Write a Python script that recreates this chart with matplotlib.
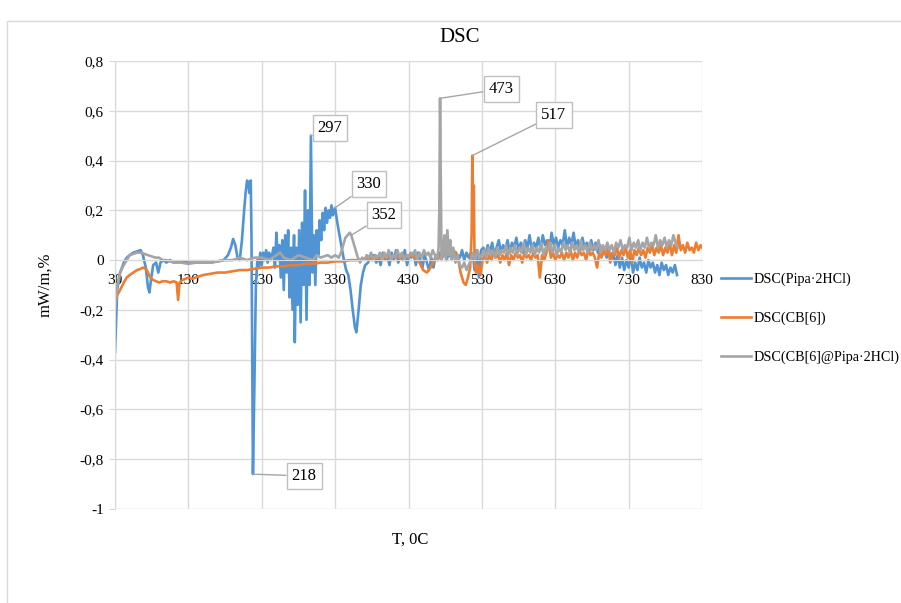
import numpy as np
import matplotlib
matplotlib.use("Agg")
import matplotlib.pyplot as plt
from matplotlib.patches import Rectangle

plt.rcParams['font.family'] = ['Liberation Serif', 'DejaVu Serif']

# DSC(Pipa·2HCl)
blue_t = [30, 33, 37, 42, 46, 50, 55, 60, 65, 68, 72, 75, 77, 79, 82, 86, 89, 92, 96, 100,
          105, 110, 120, 130, 140, 150, 160, 170, 178, 184, 188, 191, 194, 197, 200, 203,
          206, 208, 210, 212, 213, 215, 216, 218, 220, 222, 224, 226, 228, 230, 232, 234,
          236, 238, 240, 242, 244, 246, 248, 250, 252, 254, 256, 258, 260, 262, 264, 266,
          268, 270, 272, 274, 275, 277, 279, 281, 283, 285, 287, 289, 291, 293, 295, 297,
          299, 301, 303, 305, 307, 309, 311, 313, 315, 317, 319, 321, 323, 325, 327, 330,
          333, 336, 339, 342, 345, 348, 351, 354, 357, 359, 362, 365, 368, 371, 375, 377,
          380, 383, 386, 389, 392, 395, 398, 401, 404, 407, 410, 413, 416, 419, 422, 425,
          428, 431, 434, 437, 440, 443, 446, 449, 452, 455, 458, 461, 464, 467, 470, 473,
          476, 479, 482, 485, 488, 491, 494, 497, 500, 503, 506, 509, 512, 515, 518, 520,
          523, 526, 529, 532, 535, 538, 541, 544, 547, 550, 553, 556, 559, 562, 565, 568,
          571, 574, 577, 580, 583, 586, 589, 592, 595, 598, 601, 604, 607, 610, 613, 616,
          619, 622, 625, 628, 631, 634, 637, 640, 643, 646, 649, 652, 655, 658, 661, 664,
          667, 670, 673, 676, 679, 682, 685, 688, 691, 694, 697, 700, 703, 706, 709, 712,
          715, 718, 721, 724, 727, 730, 733, 736, 739, 742, 745, 748, 751, 754, 757, 760,
          763, 766, 769, 772, 775, 778, 781, 784, 787, 790, 793, 796]
blue_y = [-0.37, -0.12, -0.05, -0.01, 0.01, 0.02, 0.03, 0.035, 0.04, 0.02, -0.03, -0.11, -0.13, -0.08, -0.02, -0.01, -0.05, -0.01, 0.0, -0.01,
          0.0, -0.01, -0.005, -0.01, -0.01, -0.01, -0.01, -0.005, 0.0, 0.02, 0.05, 0.085, 0.06, 0.01, 0.0, 0.08,
          0.2, 0.27, 0.32, 0.31, 0.27, 0.32, 0.1, -0.86, -0.5, -0.1, 0.0, -0.03, 0.03, -0.02, 0.03, 0.0,
          0.04, -0.01, 0.03, 0.0, 0.02, 0.05, -0.03, 0.11, 0.0, 0.06, -0.07, 0.08, -0.12, 0.1, -0.05, 0.12,
          -0.15, 0.05, -0.2, 0.1, -0.33, 0.05, -0.18, 0.12, -0.25, 0.15, -0.1, 0.28, -0.24, 0.2, -0.1, 0.5,
          -0.05, 0.1, -0.1, 0.12, 0.02, 0.16, 0.08, 0.19, 0.12, 0.21, 0.15, 0.2, 0.17, 0.22, 0.18, 0.21,
          0.15, 0.1, 0.05, 0.0, -0.04, -0.06, -0.12, -0.2, -0.27, -0.29, -0.2, -0.1, -0.05, -0.02, -0.01, 0.01,
          0.0, 0.02, -0.01, 0.01, -0.02, 0.03, 0.0, 0.02, -0.02, 0.03, 0.0, 0.04, -0.01, 0.02, 0.0, 0.04,
          -0.02, 0.02, 0.01, 0.03, -0.02, 0.03, 0.0, -0.03, 0.02, -0.01, -0.04, 0.01, -0.03, 0.02, 0.0, 0.03,
          0.01, 0.04, 0.0, 0.03, 0.01, 0.04, 0.0, 0.02, 0.01, 0.04, 0.0, 0.03, 0.01, 0.03, 0.02, -0.04,
          0.04, -0.07, 0.04, 0.05, 0.02, 0.06, 0.03, 0.07, 0.02, 0.05, 0.08, 0.03, 0.06, 0.04, 0.08, 0.03,
          0.07, 0.05, 0.09, 0.04, 0.07, 0.03, 0.08, 0.05, 0.1, 0.04, 0.07, 0.05, 0.09, 0.04, 0.1, 0.06,
          0.08, 0.04, 0.11, 0.06, 0.09, 0.05, 0.08, 0.06, 0.12, 0.05, 0.09, 0.06, 0.11, 0.05, 0.08, 0.04,
          0.09, 0.05, 0.07, 0.03, 0.08, 0.04, 0.07, 0.03, 0.06, 0.02, 0.05, 0.01, 0.04, 0.0, 0.03, -0.02,
          0.02, -0.03, 0.01, -0.04, 0.0, -0.03, 0.02, -0.05, -0.01, -0.04, 0.01, -0.03, -0.01, -0.05, 0.0, -0.03,
          -0.01, -0.05, -0.02, -0.06, -0.01, -0.04, -0.02, -0.06, -0.03, -0.05, -0.02, -0.06]

# DSC(CB[6])
orange_t = [30, 33, 37, 42, 46, 50, 55, 60, 65, 68, 72, 75, 78, 82, 86, 90, 95, 100, 105, 110,
            114, 116, 118, 122, 126, 130, 135, 140, 145, 150, 160, 170, 180, 190, 200, 210,
            220, 230, 240, 250, 260, 270, 280, 290, 300, 310, 320, 330, 340, 350, 360, 370,
            380, 390, 400, 410, 420, 430, 440, 445, 450, 455, 460, 465, 470, 475, 480, 485,
            490, 495, 498, 501, 505, 508, 511, 514, 516, 517, 518, 519, 520, 522, 525, 528,
            531, 534, 537, 540, 543, 546, 549, 552, 555, 558, 561, 564, 567, 570, 573, 576,
            579, 582, 585, 588, 591, 594, 597, 600, 603, 606, 609, 612, 615, 618, 621, 624,
            627, 630, 633, 636, 639, 642, 645, 648, 651, 654, 657, 660, 663, 666, 669, 672,
            675, 678, 681, 684, 687, 690, 693, 696, 699, 702, 705, 708, 711, 714, 717, 720,
            723, 726, 729, 732, 735, 738, 741, 744, 747, 750, 753, 756, 759, 762, 765, 768,
            771, 774, 777, 780, 783, 786, 789, 792, 795, 798, 801, 804, 807, 810, 813, 816,
            819, 822, 825, 828, 830]
orange_y = [-0.17, -0.14, -0.12, -0.09, -0.07, -0.06, -0.05, -0.04, -0.035, -0.03, -0.035, -0.05, -0.07, -0.08, -0.085, -0.09, -0.085, -0.085, -0.09, -0.085,
            -0.09, -0.16, -0.09, -0.08, -0.075, -0.07, -0.075, -0.07, -0.065, -0.06, -0.055, -0.05, -0.05, -0.045, -0.04, -0.04,
            -0.035, -0.03, -0.03, -0.025, -0.025, -0.02, -0.02, -0.015, -0.015, -0.01, -0.01, -0.005, -0.005, 0.0, 0.0, 0.005,
            0.005, 0.01, 0.01, 0.015, 0.01, 0.02, 0.01, -0.01, -0.04, -0.05, -0.03, 0.0, 0.02, 0.01, 0.03, 0.02,
            0.04, 0.03, 0.0, -0.05, -0.09, -0.1, -0.07, -0.03, 0.1, 0.42, 0.2, 0.3, 0.0, -0.05, -0.02, -0.06,
            0.0, 0.02, -0.01, 0.02, 0.0, 0.03, 0.01, 0.02, -0.01, 0.02, 0.0, 0.03, -0.02, 0.02, 0.0, 0.03,
            0.01, 0.02, -0.01, 0.03, 0.01, 0.02, 0.0, 0.03, 0.01, 0.02, -0.07, 0.02, 0.0, 0.03, 0.08, 0.01,
            0.03, 0.0, 0.02, 0.01, 0.03, 0.0, 0.03, 0.01, 0.04, 0.0, 0.03, 0.01, 0.04, 0.02, 0.03, 0.0,
            0.04, 0.02, 0.03, 0.01, -0.03, 0.03, 0.01, 0.04, 0.02, 0.05, -0.01, 0.03, 0.02, 0.05, 0.01, 0.04,
            0.02, 0.05, 0.01, 0.04, -0.01, 0.04, 0.02, 0.05, 0.02, 0.04, 0.01, 0.05, 0.03, 0.06, 0.02, 0.05,
            0.03, 0.06, 0.02, 0.05, 0.03, 0.07, 0.02, 0.06, 0.03, 0.1, 0.04, 0.06, 0.03, 0.07, 0.04, 0.05,
            0.03, 0.07, 0.04, 0.06, 0.05]

# DSC(CB[6]@Pipa·2HCl)
gray_t = [30, 33, 37, 42, 46, 50, 55, 60, 65, 70, 75, 80, 85, 90, 95, 100, 110, 120, 130, 140,
          150, 160, 170, 180, 190, 200, 210, 220, 230, 240, 250, 255, 260, 270, 280, 290,
          300, 305, 310, 320, 325, 330, 335, 338, 341, 344, 347, 350, 352, 355, 358, 361,
          364, 367, 370, 373, 376, 379, 382, 385, 388, 391, 394, 397, 400, 403, 406, 409,
          412, 415, 418, 421, 424, 427, 430, 433, 436, 439, 442, 445, 448, 451, 454, 457,
          460, 463, 466, 469, 471, 472, 473, 474, 475, 477, 479, 481, 483, 485, 487, 489,
          491, 494, 497, 500, 503, 506, 509, 512, 515, 518, 521, 524, 527, 530, 533, 536,
          539, 542, 545, 548, 551, 554, 557, 560, 563, 566, 569, 572, 575, 578, 581, 584,
          587, 590, 593, 596, 599, 602, 605, 608, 611, 614, 617, 620, 623, 626, 629, 632,
          635, 638, 641, 644, 647, 650, 653, 656, 659, 662, 665, 668, 671, 674, 677, 680,
          683, 686, 689, 692, 695, 698, 701, 704, 707, 710, 713, 716, 719, 722, 725, 728,
          731, 734, 737, 740, 743, 746, 749, 752, 755, 758, 761, 764, 767, 770, 773, 776,
          779, 782, 785, 788, 791, 794, 797]
gray_y = [-0.2, -0.1, -0.05, -0.02, 0.0, 0.02, 0.025, 0.03, 0.03, 0.025, 0.02, 0.015, 0.01, 0.01, 0.0, 0.0, -0.01, -0.01, -0.015, -0.01,
          -0.01, -0.01, -0.005, 0.0, 0.0, 0.01, 0.0, 0.01, 0.01, 0.0, 0.02, 0.03, 0.01, 0.0, 0.02, 0.01,
          0.0, 0.02, 0.01, 0.02, 0.01, 0.02, 0.01, 0.03, 0.06, 0.09, 0.1, 0.11, 0.1, 0.07, 0.04, 0.01,
          -0.01, 0.01, 0.0, 0.02, 0.01, 0.03, 0.0, 0.02, 0.01, 0.03, 0.0, 0.03, 0.01, 0.04, 0.0, 0.02,
          0.01, 0.04, 0.01, 0.03, 0.0, 0.02, 0.01, 0.03, 0.02, 0.04, 0.0, 0.03, 0.01, 0.04, 0.02, 0.03,
          0.01, 0.04, 0.02, 0.0, 0.05, 0.2, 0.65, 0.3, 0.0, 0.03, 0.1, 0.0, 0.12, 0.02, 0.08, 0.0,
          0.05, -0.01, 0.02, -0.02, -0.03, -0.01, -0.04, -0.02, 0.0, 0.03, 0.0, 0.04, 0.01, 0.02, 0.04, 0.01,
          0.05, 0.02, 0.04, 0.01, 0.05, 0.02, 0.04, 0.03, 0.06, 0.02, 0.05, 0.03, 0.06, 0.02, 0.05, 0.03,
          0.07, 0.02, 0.05, 0.03, 0.06, 0.02, 0.05, 0.03, 0.07, 0.02, 0.05, 0.04, 0.07, 0.03, 0.06, 0.02,
          0.05, 0.03, 0.07, 0.04, 0.06, 0.03, 0.07, 0.04, 0.06, 0.03, 0.08, 0.04, 0.06, 0.03, 0.07, 0.04,
          0.06, 0.04, 0.08, 0.03, 0.06, 0.04, 0.07, 0.04, 0.06, 0.03, 0.07, 0.05, 0.08, 0.04, 0.06, 0.05,
          0.09, 0.04, 0.07, 0.05, 0.08, 0.04, 0.07, 0.05, 0.09, 0.05, 0.07, 0.06, 0.1, 0.05, 0.08, 0.06,
          0.09, 0.05, 0.08, 0.06, 0.1, 0.07, 0.05]

series_names = ['DSC(Pipa·2HCl)', 'DSC(CB[6])', 'DSC(CB[6]@Pipa·2HCl)']
colors = ['#5094D5', '#ED7D31', '#A5A5A5']

x_ticks = [30, 130, 230, 330, 430, 530, 630, 730, 830]
y_ticks = [-1, -0.8, -0.6, -0.4, -0.2, 0, 0.2, 0.4, 0.6, 0.8]
y_labels = ['-1', '-0,8', '-0,6', '-0,4', '-0,2', '0', '0,2', '0,4', '0,6', '0,8']

# callouts: (series index, temperature, label)
callout_pts = [(0, 297, '297'), (0, 330, '330'), (2, 352, '352'),
               (2, 473, '473'), (1, 517, '517'), (0, 218, '218')]
callout_box = {'297': (330, 128), '330': (369, 184), '352': (384, 215),
               '473': (501, 89), '517': (554, 115), '218': (304, 476)}

W, H = 901, 603
fig = plt.figure(figsize=(W / 100, H / 100), dpi=100)
fig.patches.append(Rectangle((7 / W, -0.1), 1.2, 1.1 - 21 / H, transform=fig.transFigure,
                             fill=False, edgecolor='#D9D9D9', lw=1))
ax = fig.add_axes([115 / W, 1 - 509 / H, (702 - 115) / W, (509 - 61) / H])

data = [(blue_t, blue_y), (orange_t, orange_y), (gray_t, gray_y)]
for (t, y), name, c in zip(data, series_names, colors):
    ax.plot(t, y, color=c, lw=1.9, label=name, solid_joinstyle='round')

ax.set_xlim(30, 830)
ax.set_ylim(-1, 0.8)
ax.set_xticks(x_ticks)
ax.set_yticks(y_ticks)
ax.set_yticklabels(y_labels)
ax.grid(True, color='#D9D9D9', lw=1)
ax.set_axisbelow(True)
for s in ['top', 'right']:
    ax.spines[s].set_visible(False)
ax.spines['bottom'].set_position(('data', 0))
ax.spines['bottom'].set_color('#D9D9D9')
ax.spines['left'].set_color('#D9D9D9')
ax.tick_params(axis='x', length=0, pad=10, labelsize=11)
ax.tick_params(axis='y', length=4, color='#D9D9D9', pad=4, labelsize=11)

for idx, temp, lab in callout_pts:
    t, y = data[idx]
    val = y[t.index(temp)]
    bx, by = callout_box[lab]
    ax.annotate(lab, xy=(temp, val), xytext=(bx / W, 1 - by / H), textcoords='figure fraction',
                ha='center', va='center', fontsize=12,
                bbox=dict(boxstyle='square,pad=0.3', fc='white', ec='#BFBFBF', lw=1),
                arrowprops=dict(arrowstyle='-', color='#A6A6A6', lw=1, shrinkA=0, shrinkB=0))

fig.text(460 / W, 1 - 37 / H, 'DSC', ha='center', va='center', fontsize=15)
fig.text(45 / W, 1 - 285 / H, 'mW/m,%', ha='center', va='center', rotation=90, fontsize=12)
fig.text(410 / W, 1 - 540 / H, 'T, 0C', ha='center', va='center', fontsize=12)

ax.legend(loc='upper left', bbox_to_anchor=(721 / W, 1 - 273 / H), bbox_transform=fig.transFigure,
          frameon=False, fontsize=10.2, handlelength=2.1, handletextpad=0.2, labelspacing=1.8,
          borderpad=0, borderaxespad=0)

fig.savefig('out.png', dpi=100)
